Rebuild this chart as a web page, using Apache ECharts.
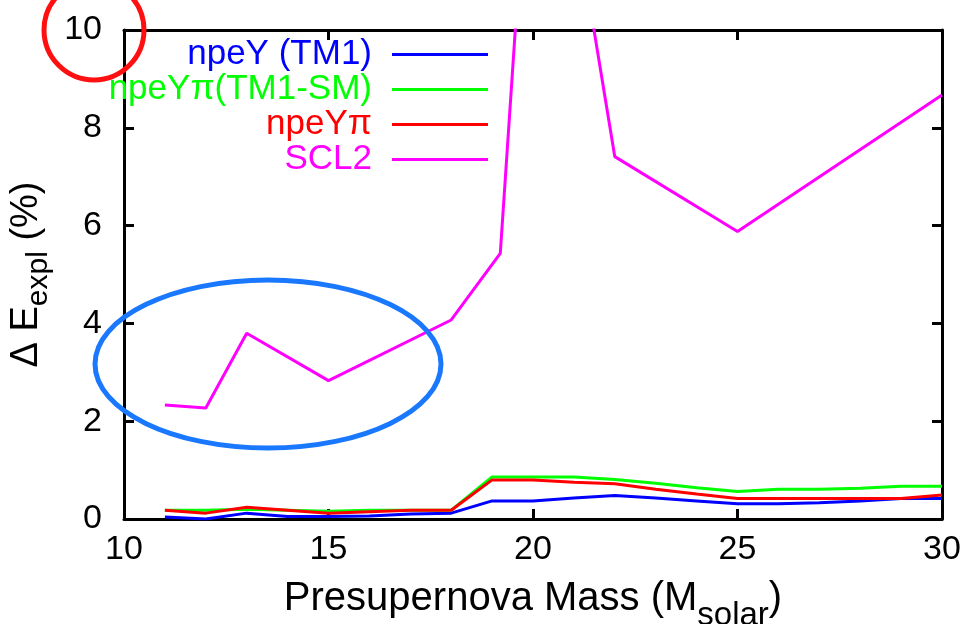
<!DOCTYPE html>
<html>
<head>
<meta charset="utf-8">
<script src="https://cdn.jsdelivr.net/npm/echarts@6/dist/echarts.min.js"></script>
<style>html,body{margin:0;padding:0;background:#fff}#c{width:976px;height:624px}</style>
</head>
<body>
<div id="c"></div>
<script>
// ---- data ----
const seriesNames = ['npeY (TM1)', 'npeYπ(TM1-SM)', 'npeYπ', 'SCL2'];
const seriesColors = ['#0000ff', '#00ff00', '#ff0000', '#ff00ff'];

const massGrid = [11, 12, 13, 14, 15, 16, 17, 18, 19, 20, 21, 22, 23, 24, 25, 26, 27, 28, 29, 30];
const npeY_TM1 = [0.04, 0.00, 0.12, 0.05, 0.05, 0.06, 0.10, 0.12, 0.37, 0.37, 0.43, 0.48, 0.43, 0.37, 0.31, 0.31, 0.33, 0.37, 0.42, 0.42];
const npeYpi_TM1SM = [0.18, 0.18, 0.20, 0.18, 0.16, 0.18, 0.18, 0.18, 0.86, 0.86, 0.86, 0.81, 0.73, 0.64, 0.56, 0.61, 0.61, 0.63, 0.67, 0.67];
const npeYpi = [0.18, 0.12, 0.24, 0.18, 0.12, 0.15, 0.18, 0.18, 0.80, 0.80, 0.75, 0.72, 0.61, 0.51, 0.42, 0.42, 0.42, 0.42, 0.42, 0.49];

const scl2Mass = [11, 12, 13, 15, 18, 19.2, 20, 21, 22, 25, 30];
const scl2 = [2.33, 2.27, 3.80, 2.83, 4.07, 5.43, 15.4, 12.5, 7.41, 5.88, 8.67];

const xTicks = [10, 15, 20, 25, 30];
const yTicks = [0, 2, 4, 6, 8, 10];

// ---- chart ----
const FONT = 'Liberation Sans';
const pair = (xs, ys) => xs.map((x, i) => [x, ys[i]]);
const seriesData = [
  pair(massGrid, npeY_TM1),
  pair(massGrid, npeYpi_TM1SM),
  pair(massGrid, npeYpi),
  pair(scl2Mass, scl2)
];

const axisLine = { show: true, onZero: false, lineStyle: { color: '#000', width: 3 } };
const axisTick = { show: true, inside: true, length: 10, lineStyle: { color: '#000', width: 3 } };

const chart = echarts.init(document.getElementById('c'), null, { renderer: 'canvas' });
chart.setOption({
  animation: false,
  backgroundColor: '#fff',
  grid: { left: 124, right: 34, top: 30, bottom: 105, containLabel: false, outerBoundsMode: 'none' },
  legend: {
    orient: 'vertical',
    right: 488,
    top: 37,
    padding: 0,
    itemGap: 0,
    align: 'right',
    icon: 'rect',
    itemWidth: 96,
    itemHeight: 3,
    selectedMode: false,
    textStyle: { fontFamily: FONT, fontSize: 35, lineHeight: 35, padding: [0, 15, 0, 0] },
    data: seriesNames.map((n, i) => ({ name: n, textStyle: { color: seriesColors[i] } }))
  },
  xAxis: [{
    type: 'value', min: xTicks[0], max: xTicks[xTicks.length - 1], interval: 5,
    position: 'bottom',
    axisLine, axisTick, splitLine: { show: false },
    axisLabel: { color: '#000', fontFamily: FONT, fontSize: 34, margin: 14 },
    name: '{a|Presupernova Mass (M}{b|solar}{a|)}',
    nameLocation: 'middle',
    nameGap: 60,
    nameTextStyle: {
      rich: {
        a: { fontFamily: FONT, fontSize: 40, lineHeight: 40, color: '#000', verticalAlign: 'top' },
        b: { fontFamily: FONT, fontSize: 33, lineHeight: 33, color: '#000', verticalAlign: 'top', padding: [20, 0, 0, 0] }
      }
    }
  }, {
    type: 'value', min: xTicks[0], max: xTicks[xTicks.length - 1], interval: 5,
    position: 'top',
    axisLine, axisTick, splitLine: { show: false }, axisLabel: { show: false }
  }],
  yAxis: [{
    type: 'value', min: yTicks[0], max: yTicks[yTicks.length - 1], interval: 2,
    position: 'left',
    axisLine, axisTick, splitLine: { show: false },
    axisLabel: { color: '#000', fontFamily: FONT, fontSize: 34, margin: 22 },
    name: '{a|Δ E}{b|expl}{a| (%)}',
    nameLocation: 'middle',
    nameGap: 52,
    nameTextStyle: {
      rich: {
        a: { fontFamily: FONT, fontSize: 38, lineHeight: 38, color: '#000', verticalAlign: 'top' },
        b: { fontFamily: FONT, fontSize: 30, lineHeight: 30, color: '#000', verticalAlign: 'top', padding: [16, 0, 0, 0] }
      }
    }
  }, {
    type: 'value', min: yTicks[0], max: yTicks[yTicks.length - 1], interval: 2,
    position: 'right',
    axisLine, axisTick, splitLine: { show: false }, axisLabel: { show: false }
  }],
  series: seriesNames.map((n, i) => ({
    name: n,
    type: 'line',
    data: seriesData[i],
    color: seriesColors[i],
    showSymbol: false,
    symbol: 'none',
    clip: true,
    lineStyle: { width: 3, color: seriesColors[i] },
    z: 2 + i
  })),
  graphic: [
    {
      type: 'circle', z: 100,
      shape: { cx: 94, cy: 30, r: 50 },
      style: { fill: 'none', stroke: '#ff1010', lineWidth: 5 }
    },
    {
      type: 'ellipse', z: 100,
      shape: { cx: 268, cy: 364, rx: 173, ry: 84 },
      style: { fill: 'none', stroke: '#1a78ff', lineWidth: 5 }
    }
  ]
});
</script>
</body>
</html>
